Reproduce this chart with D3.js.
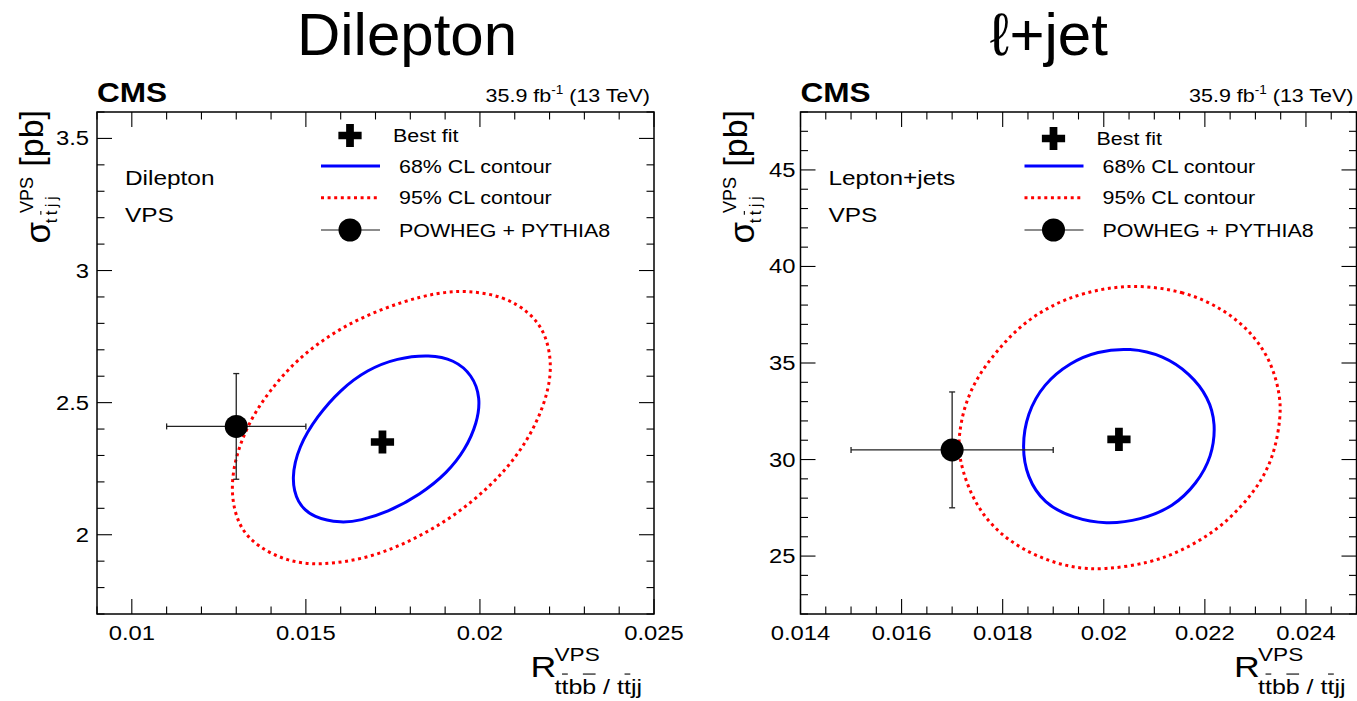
<!DOCTYPE html>
<html>
<head>
<meta charset="utf-8">
<script src="https://cdn.jsdelivr.net/npm/d3@7"></script>
<style>
  body { margin: 0; background: #fff; }
  svg { display: block; font-family: 'Liberation Sans', Arial, Helvetica, sans-serif; }
</style>
</head>
<body>
<div id="chart"></div>
<script>
// Dilepton channel
const dilBestFit = [0.0172, 2.351]
const dilPowheg = [0.013, 2.41]
const dilPowhegErr = [0.002, 0.2]
const dilContour68 = [
  [0.01856, 2.682], [0.01925, 2.663], [0.01978, 2.606], [0.02002, 2.518], [0.01992, 2.423],
  [0.01958, 2.322], [0.01906, 2.234], [0.01829, 2.152], [0.01733, 2.084], [0.01656, 2.054],
  [0.01604, 2.044], [0.01522, 2.063], [0.01474, 2.12], [0.01458, 2.215], [0.01479, 2.334],
  [0.01532, 2.448], [0.01599, 2.549], [0.01676, 2.625], [0.01762, 2.669],
]
const dilContour95 = [
  [0.01963, 2.925], [0.02068, 2.903], [0.02145, 2.84], [0.02188, 2.764], [0.02206, 2.656],
  [0.02198, 2.549], [0.02164, 2.423], [0.02107, 2.297], [0.0203, 2.183], [0.01925, 2.069],
  [0.0181, 1.981], [0.01685, 1.912], [0.01541, 1.883], [0.01446, 1.899], [0.01359, 1.956],
  [0.01306, 2.031], [0.01283, 2.158], [0.01297, 2.297], [0.0134, 2.436], [0.01398, 2.549],
  [0.01474, 2.663], [0.0157, 2.758], [0.01666, 2.827], [0.01781, 2.884], [0.01877, 2.916],
]
const dilXTicks = [0.01, 0.015, 0.02, 0.025]
const dilYTicks = [2, 2.5, 3, 3.5]

// Lepton+jets channel
const ljBestFit = [0.0203, 31.05]
const ljPowheg = [0.017, 30.5]
const ljPowhegErr = [0.002, 3.0]
const ljContour68 = [
  [0.02052, 35.79], [0.02118, 35.39], [0.02171, 34.44], [0.02207, 33.23], [0.02222, 31.86],
  [0.02214, 30.13], [0.02184, 28.76], [0.02138, 27.55], [0.02072, 26.86], [0.02005, 26.64],
  [0.0194, 26.95], [0.01881, 27.72], [0.01848, 29.1], [0.01838, 30.65], [0.01848, 32.37],
  [0.01881, 33.93], [0.01934, 35.04], [0.01987, 35.61],
]
const ljContour95 = [
  [0.02052, 39.09], [0.02158, 38.75], [0.02237, 37.8], [0.02296, 36.51], [0.02333, 34.96],
  [0.02349, 33.32], [0.0235, 32.2], [0.02339, 30.48], [0.02316, 29.03], [0.02276, 27.64],
  [0.02224, 26.34], [0.02158, 25.31], [0.02092, 24.64], [0.02, 24.28], [0.01934, 24.4],
  [0.01868, 24.96], [0.01809, 25.83], [0.01762, 27.03], [0.0173, 28.58], [0.01713, 30.22],
  [0.01713, 31.17], [0.01723, 32.72], [0.01749, 34.27], [0.01789, 35.65], [0.01835, 36.94],
  [0.01894, 37.97], [0.0196, 38.66],
]
const ljXTicks = [0.014, 0.016, 0.018, 0.02, 0.022, 0.024]
const ljYTicks = [25, 30, 35, 40, 45]

const legendLabels = ['Best fit', '68% CL contour', '95% CL contour', 'POWHEG + PYTHIA8']

const panels = [
  {
    title: 'Dilepton', titleX: 407, ox: 0, range: [97, 654],
    xDomain: [0.009, 0.025], yDomain: [1.7, 3.6],
    xTicks: dilXTicks, yTicks: dilYTicks,
    xMinor: d3.range(9, 25.5, 1).map(v => v / 1000),
    yMinor: d3.range(17, 36.5, 1).map(v => v / 10),
    best: dilBestFit, powheg: dilPowheg, err: dilPowhegErr,
    c68: dilContour68, c95: dilContour95,
    channel: 'Dilepton', labelGap: 8, bestDy: 0,
  },
  {
    title: '\u2113+jet', titleX: 1049, ox: 703.5, range: [800.5, 1356.5],
    xDomain: [0.014, 0.025], yDomain: [22, 48],
    xTicks: ljXTicks, yTicks: ljYTicks,
    xMinor: d3.range(28, 50.5, 1).map(v => v / 2000),
    yMinor: d3.range(22, 48.5, 1),
    best: ljBestFit, powheg: ljPowheg, err: ljPowhegErr,
    c68: ljContour68, c95: ljContour95,
    channel: 'Lepton+jets', labelGap: 5, bestDy: 3,
  },
]

const width = 1357, height = 701
const frameTop = 112, frameBottom = 614
const SX = 1.19 // ROOT text is rendered wider than Arial metrics

const svg = d3.select('#chart').append('svg')
  .attr('width', width)
  .attr('height', height)

svg.append('rect').attr('width', width).attr('height', height).attr('fill', '#fff')

function rootText(g, x, y, str, size, anchor, weight) {
  return g.append('text')
    .attr('transform', 'translate(' + x + ',' + y + ') scale(' + SX + ',1)')
    .attr('font-size', size)
    .attr('text-anchor', anchor || 'start')
    .attr('font-weight', weight || 'normal')
    .text(str)
}

// text in its own group, with a bar drawn over the flagged letters
function barredText(g, transform, size, parts, barY, len) {
  const grp = g.append('g').attr('transform', transform)
  const t = grp.append('text').attr('font-size', size).text(parts.map(p => p[0]).join(''))
  if (len) t.attr('textLength', len).attr('lengthAdjust', 'spacing')
  const node = t.node()
  let i = 0
  parts.forEach(p => {
    if (p[1]) {
      const a = node.getStartPositionOfChar(i).x
      const b = node.getEndPositionOfChar(i).x
      grp.append('line')
        .attr('x1', a + 0.5).attr('x2', b - 0.5)
        .attr('y1', -barY * size).attr('y2', -barY * size)
        .attr('stroke', '#000').attr('stroke-width', 1.1)
    }
    i += p[0].length
  })
  return grp
}

const crossSymbol = d3.symbol().type(d3.symbolCross).size(300)

function drawPanel(p) {
  const x = d3.scaleLinear().domain(p.xDomain).range(p.range)
  const y = d3.scaleLinear().domain(p.yDomain).range([frameBottom, frameTop])
  const x0 = p.range[0], x1 = p.range[1]
  const ox = p.ox
  const g = svg.append('g')

  // title above the frame
  g.append('text')
    .attr('x', p.titleX)
    .attr('y', 55)
    .attr('font-size', 60)
    .attr('text-anchor', 'middle')
    .text(p.title)

  // contours
  const line = d3.line()
    .x(d => x(d[0]))
    .y(d => y(d[1]))
    .curve(d3.curveBasisClosed)

  g.append('path')
    .attr('d', line(p.c95))
    .attr('fill', 'none')
    .attr('stroke', '#ff0000')
    .attr('stroke-width', 3)
    .attr('stroke-dasharray', '3,3.6')

  g.append('path')
    .attr('d', line(p.c68))
    .attr('fill', 'none')
    .attr('stroke', '#0000ff')
    .attr('stroke-width', 3)

  // POWHEG + PYTHIA8 prediction with error bars
  const px = x(p.powheg[0]), py = y(p.powheg[1])
  const xl = x(p.powheg[0] - p.err[0]), xr = x(p.powheg[0] + p.err[0])
  const yt = y(p.powheg[1] + p.err[1]), yb = y(p.powheg[1] - p.err[1])
  const bars = g.append('g').attr('stroke', '#222').attr('stroke-width', 1.3)
  bars.append('line').attr('x1', xl).attr('x2', xr).attr('y1', py).attr('y2', py)
  bars.append('line').attr('x1', px).attr('x2', px).attr('y1', yt).attr('y2', yb)
  bars.append('line').attr('x1', xl).attr('x2', xl).attr('y1', py - 3).attr('y2', py + 3)
  bars.append('line').attr('x1', xr).attr('x2', xr).attr('y1', py - 3).attr('y2', py + 3)
  bars.append('line').attr('x1', px - 3).attr('x2', px + 3).attr('y1', yt).attr('y2', yt)
  bars.append('line').attr('x1', px - 3).attr('x2', px + 3).attr('y1', yb).attr('y2', yb)
  g.append('circle').attr('cx', px).attr('cy', py).attr('r', 11.5).attr('fill', '#000')

  // best fit
  g.append('path')
    .attr('d', crossSymbol())
    .attr('transform', 'translate(' + x(p.best[0]) + ',' + y(p.best[1]) + ')')
    .attr('fill', '#000')

  // frame and ticks on all four sides
  g.append('rect')
    .attr('x', x0).attr('y', frameTop)
    .attr('width', x1 - x0).attr('height', frameBottom - frameTop)
    .attr('fill', 'none').attr('stroke', '#000').attr('stroke-width', 1.5)

  const ticks = g.append('g').attr('stroke', '#000').attr('stroke-width', 1.1)
  const xMajor = p.xTicks.map(v => [v, 15])
  const xMin = p.xMinor.filter(v => !p.xTicks.some(t => Math.abs(t - v) < 1e-9)).map(v => [v, 7.5])
  xMajor.concat(xMin).forEach(t => {
    const xx = x(t[0])
    ticks.append('line').attr('x1', xx).attr('x2', xx).attr('y1', frameBottom).attr('y2', frameBottom - t[1])
    ticks.append('line').attr('x1', xx).attr('x2', xx).attr('y1', frameTop).attr('y2', frameTop + t[1])
  })
  const yMajor = p.yTicks.map(v => [v, 15])
  const yMin = p.yMinor.filter(v => !p.yTicks.some(t => Math.abs(t - v) < 1e-9)).map(v => [v, 7.5])
  yMajor.concat(yMin).forEach(t => {
    const yy = y(t[0])
    ticks.append('line').attr('x1', x0).attr('x2', x0 + t[1]).attr('y1', yy).attr('y2', yy)
    ticks.append('line').attr('x1', x1).attr('x2', x1 - t[1]).attr('y1', yy).attr('y2', yy)
  })

  const fmt = d3.format('~g')
  p.xTicks.forEach(v => rootText(g, x(v), 640, fmt(v), 20, 'middle'))
  p.yTicks.forEach(v => rootText(g, x0 - p.labelGap, y(v) + 7, fmt(v), 20, 'end'))

  // CMS label and luminosity
  rootText(g, 97 + ox, 102, 'CMS', 27, 'start', 'bold').attr('transform', 'translate(' + (97 + ox) + ',102) scale(1.17,1)')
  const lumi = g.append('text')
    .attr('transform', 'translate(' + (650 + ox) + ',102) scale(1.13,1)')
    .attr('font-size', 19)
    .attr('text-anchor', 'end')
  lumi.append('tspan').text('35.9 fb')
  lumi.append('tspan').attr('font-size', 12).attr('dy', -8).text('-1')
  lumi.append('tspan').attr('dy', 8).text(' (13 TeV)')

  // channel text
  rootText(g, 125 + ox, 185, p.channel, 20.5)
  rootText(g, 125 + ox, 221.7, 'VPS', 20.5)

  // legend
  const lg = g.append('g')
  lg.append('path')
    .attr('d', crossSymbol())
    .attr('transform', 'translate(' + (350 + ox) + ',' + (135.5 + p.bestDy) + ')')
    .attr('fill', '#000')
  lg.append('line').attr('x1', 321 + ox).attr('x2', 380 + ox).attr('y1', 166).attr('y2', 166)
    .attr('stroke', '#0000ff').attr('stroke-width', 3)
  lg.append('line').attr('x1', 321 + ox).attr('x2', 380 + ox).attr('y1', 197.7).attr('y2', 197.7)
    .attr('stroke', '#ff0000').attr('stroke-width', 3).attr('stroke-dasharray', '3,3.6')
  lg.append('line').attr('x1', 321 + ox).attr('x2', 380 + ox).attr('y1', 230).attr('y2', 230)
    .attr('stroke', '#666').attr('stroke-width', 1.5)
  lg.append('circle').attr('cx', 350 + ox).attr('cy', 230).attr('r', 11.5).attr('fill', '#000')
  rootText(lg, 393 + ox, 141.5 + p.bestDy, legendLabels[0], 18)
  rootText(lg, 399 + ox, 172.7, legendLabels[1], 18)
  rootText(lg, 399 + ox, 204, legendLabels[2], 18)
  rootText(lg, 399 + ox, 236.7, legendLabels[3], 18)

  // x axis title
  rootText(g, 530.5 + ox, 677.3, 'R', 30)
  rootText(g, 554.5 + ox, 661, 'VPS', 19)
  barredText(g, 'translate(' + (554.5 + ox) + ',694) scale(' + SX + ',1)', 21,
    [['t', 0], ['t', 1], ['b', 0], ['b', 1], [' / ', 0], ['t', 0], ['t', 1], ['j', 0], ['j', 0]], 0.95)

  // y axis title, rotated
  const rot = (xx, yy) => 'translate(' + (xx + ox) + ',' + yy + ') rotate(-90)'
  g.append('text').attr('transform', rot(50, 243.5)).attr('font-size', 35).text('\u03c3')
  g.append('text').attr('transform', rot(32.7, 213)).attr('font-size', 18).text('VPS')
  barredText(g, rot(57, 223.3), 17, [['t', 0], ['t', 1], ['j', 0], ['j', 0]], 0.95, 27)
  g.append('text').attr('transform', rot(43, 166.7)).attr('font-size', 34).text('[pb]')
}

panels.forEach(drawPanel)
</script>
</body>
</html>
